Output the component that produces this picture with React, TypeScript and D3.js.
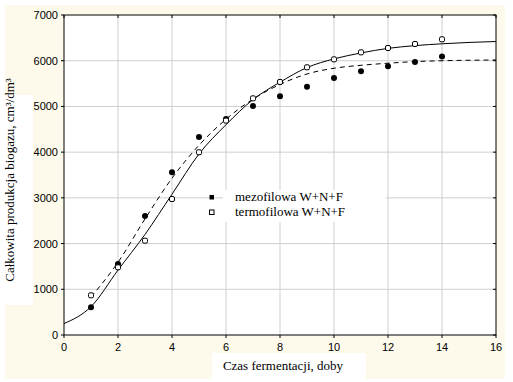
import React from "react";
import * as d3 from "d3";

const days = [1, 2, 3, 4, 5, 6, 7, 8, 9, 10, 11, 12, 13, 14];
const mezofilowa = [606, 1553, 2603, 3559, 4331, 4725, 5010, 5220, 5430, 5620, 5770, 5877, 5972, 6090];
const termofilowa = [868, 1481, 2063, 2975, 3997, 4690, 5177, 5535, 5856, 6030, 6183, 6278, 6366, 6468];

const solidFitX = [0, 1, 2, 3, 4, 5, 6, 7, 8, 9, 10, 11, 12, 13, 14, 15, 16];
const solidFitY = [250, 620, 1420, 2200, 3080, 3960, 4600, 5150, 5530, 5850, 6040, 6170, 6270, 6330, 6370, 6400, 6420];
const dashedFitX = [1, 2, 3, 4, 5, 6, 7, 8, 9, 10, 11, 12, 13, 14, 15, 16];
const dashedFitY = [830, 1590, 2540, 3430, 4150, 4720, 5160, 5480, 5710, 5835, 5900, 5945, 5980, 6000, 6010, 6016];

const xTicks = [0, 2, 4, 6, 8, 10, 12, 14, 16];
const yTicks = [0, 1000, 2000, 3000, 4000, 5000, 6000, 7000];
const legendLabels = ["mezofilowa W+N+F", "termofilowa W+N+F"];
const xTitle = "Czas fermentacji, doby";
const yTitle = "Całkowita produkcja biogazu, cm³/dm³";

const W = 513;
const H = 382;
const L = 64, R = 496, T = 15, B = 335;

export default function App() {
  const x = d3.scaleLinear().domain([0, 16]).range([L, R]);
  const y = d3.scaleLinear().domain([0, 7000]).range([B, T]);
  const line = d3
    .line<[number, number]>()
    .x((d) => x(d[0]))
    .y((d) => y(d[1]))
    .curve(d3.curveMonotoneX);
  const solidPath = line(solidFitX.map((v, i) => [v, solidFitY[i]]) as [number, number][]) || "";
  const dashedPath = line(dashedFitX.map((v, i) => [v, dashedFitY[i]]) as [number, number][]) || "";
  const tickFont = "'Liberation Sans', Arial, sans-serif";
  const serif = "'Liberation Serif', 'Times New Roman', serif";

  return (
    <svg
      width={W}
      height={H}
      style={{ position: "absolute", left: 0, top: 0, background: "#fff" }}
    >
      <rect x={5} y={5} width={500} height={374} fill="#fdfaec" />
      <rect x={L} y={T} width={R - L} height={B - T} fill="#fff" />
      {/* white boxes behind titles */}
      <rect x={212} y={353} width={154} height={27} fill="#fff" />
      <rect x={5} y={95} width={28} height={210} fill="#fff" />
      {/* grid */}
      {xTicks.slice(1, -1).map((t) => (
        <line key={"gx" + t} x1={x(t)} x2={x(t)} y1={T} y2={B} stroke="#cfcfcf" strokeWidth={1} />
      ))}
      {yTicks.slice(1, -1).map((t) => (
        <line key={"gy" + t} x1={L} x2={R} y1={y(t)} y2={y(t)} stroke="#cfcfcf" strokeWidth={1} />
      ))}
      {/* legend box */}
      <rect x={223} y={190} width={163} height={32} fill="#fff" />
      {/* frame */}
      <rect x={L} y={T} width={R - L} height={B - T} fill="none" stroke="#000" strokeWidth={1} />
      {xTicks.map((t) => (
        <g key={"xt" + t}>
          <line x1={x(t)} x2={x(t)} y1={B} y2={B + 3} stroke="#000" />
          <line x1={x(t)} x2={x(t)} y1={T} y2={T + 3} stroke="#000" />
          <text x={x(t)} y={351} textAnchor="middle" fontFamily={tickFont} fontSize={11} fill="#000">
            {t}
          </text>
        </g>
      ))}
      {yTicks.map((t) => (
        <g key={"yt" + t}>
          <line x1={L - 3} x2={L} y1={y(t)} y2={y(t)} stroke="#000" />
          <line x1={R - 3} x2={R} y1={y(t)} y2={y(t)} stroke="#000" />
          <text x={58} y={y(t) + 4} textAnchor="end" fontFamily={tickFont} fontSize={11} fill="#000">
            {t}
          </text>
        </g>
      ))}
      {/* fits */}
      <path d={solidPath} fill="none" stroke="#000" strokeWidth={1} />
      <path d={dashedPath} fill="none" stroke="#000" strokeWidth={1} strokeDasharray="5,4" />
      {/* points */}
      {days.map((d, i) => (
        <circle key={"m" + d} cx={x(d)} cy={y(mezofilowa[i])} r={3} fill="#000" />
      ))}
      {days.map((d, i) => (
        <rect
          key={"t" + d}
          x={x(d) - 2.5}
          y={y(termofilowa[i]) - 2.5}
          width={5}
          height={5}
          rx={1.5}
          fill="#fff"
          stroke="#000"
          strokeWidth={1}
        />
      ))}
      {/* legend */}
      <rect x={209.5} y={195} width={4.5} height={4.5} fill="#000" />
      <rect x={209.5} y={210} width={4.5} height={4.5} fill="#fff" stroke="#000" />
      <text x={235} y={201} fontFamily={serif} fontSize={13} fill="#000">
        {legendLabels[0]}
      </text>
      <text x={235} y={216} fontFamily={serif} fontSize={13} fill="#000">
        {legendLabels[1]}
      </text>
      {/* titles */}
      <text x={283} y={370} textAnchor="middle" fontFamily={serif} fontSize={13} fill="#000">
        {xTitle}
      </text>
      <text
        transform={`translate(14,180) rotate(-90)`}
        textAnchor="middle"
        fontFamily={serif}
        fontSize={13}
        fill="#000"
      >
        {yTitle}
      </text>
    </svg>
  );
}
